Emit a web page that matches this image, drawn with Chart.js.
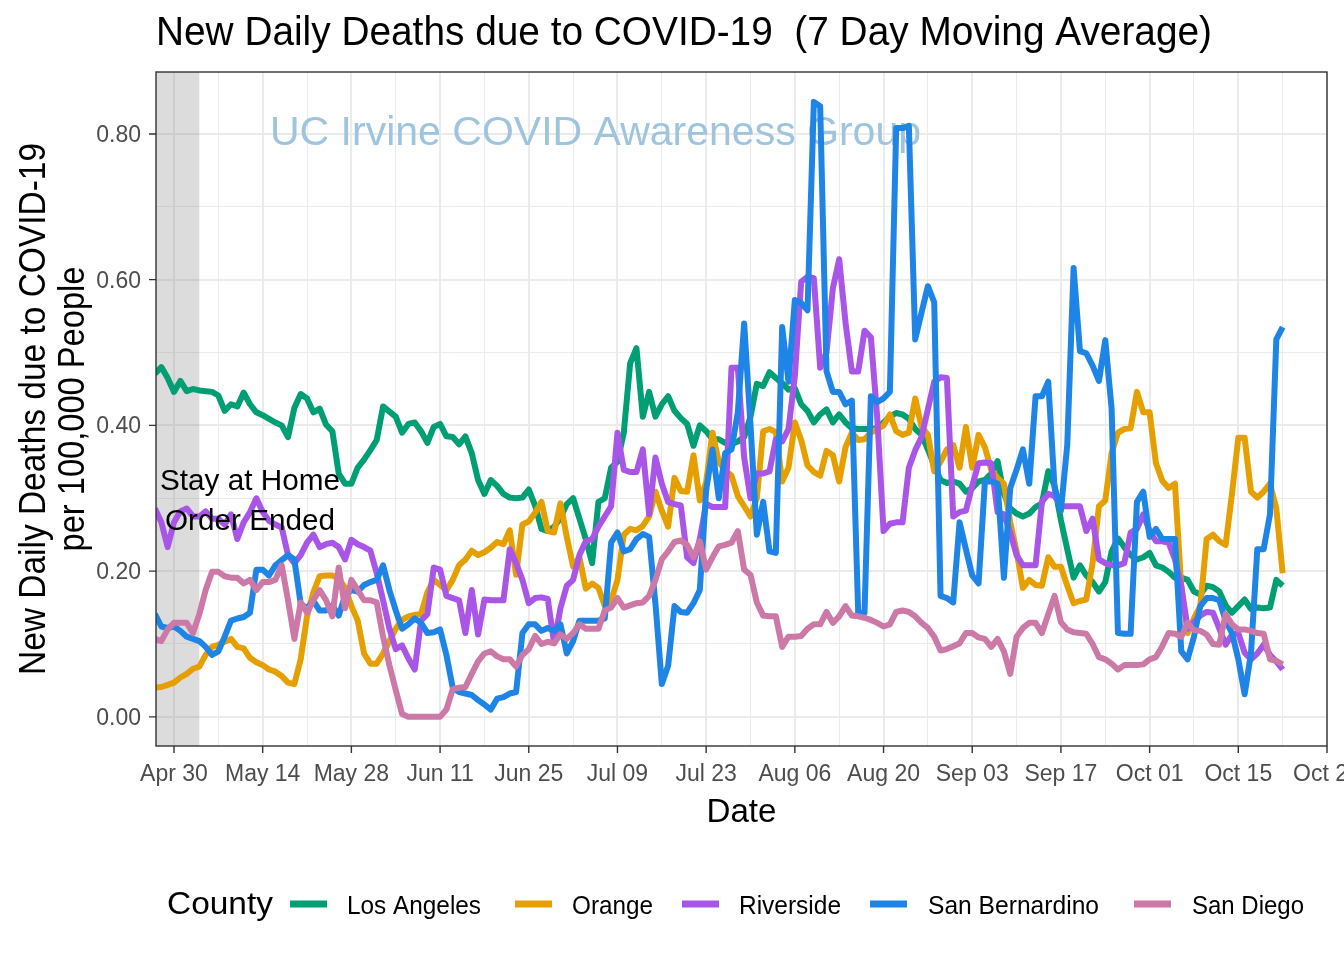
<!DOCTYPE html>
<html>
<head>
<meta charset="utf-8">
<script src="https://cdn.jsdelivr.net/npm/chart.js@4.4.1/dist/chart.umd.min.js"></script>
<style>
html,body{margin:0;padding:0;background:#ffffff;}
canvas{display:block;}
</style>
</head>
<body>
<canvas id="chart" width="1344" height="960"></canvas>
<script>
// ---- data (day index 0 = Apr 30, 2020; first value = Apr 27) ----
const FIRST_DAY = -3;
const counties = ['Los Angeles', 'Orange', 'Riverside', 'San Bernardino', 'San Diego'];
const countyColors = ['#009E73', '#E69F00', '#A855E8', '#1E85E6', '#CC79A7'];

const losAngeles = [
0.471,0.480,0.465,0.446,0.461,0.447,0.450,0.448,0.447,0.446,
0.441,0.420,0.429,0.426,0.445,0.429,0.418,0.414,0.409,0.404,
0.400,0.384,0.424,0.443,0.437,0.418,0.423,0.401,0.392,0.334,
0.320,0.320,0.342,0.353,0.366,0.380,0.426,0.419,0.412,0.390,
0.402,0.404,0.392,0.376,0.398,0.402,0.385,0.384,0.374,0.385,
0.362,0.325,0.306,0.325,0.317,0.306,0.301,0.300,0.301,0.312,
0.290,0.258,0.255,0.261,0.273,0.292,0.300,0.272,0.244,0.211,
0.295,0.300,0.342,0.350,0.390,0.485,0.506,0.412,0.446,0.412,
0.429,0.440,0.420,0.410,0.402,0.372,0.400,0.392,0.381,0.381,
0.376,0.374,0.378,0.384,0.412,0.457,0.454,0.473,0.465,0.458,
0.449,0.451,0.429,0.420,0.404,0.415,0.422,0.404,0.415,0.404,
0.396,0.395,0.395,0.395,0.396,0.404,0.412,0.417,0.415,0.409,
0.395,0.387,0.367,0.345,0.325,0.321,0.323,0.320,0.309,0.314,
0.323,0.325,0.334,0.351,0.306,0.286,0.279,0.275,0.279,0.288,
0.293,0.337,0.317,0.270,0.230,0.191,0.208,0.194,0.185,0.172,
0.185,0.227,0.245,0.233,0.222,0.216,0.219,0.225,0.208,0.205,
0.199,0.191,0.191,0.188,0.172,0.168,0.180,0.178,0.172,0.153,
0.143,0.152,0.161,0.148,0.150,0.149,0.150,0.188,0.180];

const orange = [
0.040,0.041,0.044,0.047,0.054,0.059,0.066,0.069,0.085,0.096,
0.099,0.103,0.107,0.096,0.094,0.081,0.075,0.071,0.065,0.062,
0.056,0.047,0.045,0.079,0.138,0.171,0.193,0.194,0.194,0.190,
0.177,0.152,0.132,0.087,0.073,0.073,0.087,0.104,0.121,0.133,
0.138,0.140,0.141,0.171,0.188,0.181,0.174,0.188,0.208,0.216,
0.228,0.222,0.226,0.232,0.240,0.237,0.256,0.195,0.264,0.268,
0.280,0.295,0.255,0.253,0.293,0.247,0.206,0.219,0.176,0.183,
0.177,0.152,0.160,0.188,0.250,0.258,0.256,0.262,0.275,0.309,
0.283,0.261,0.328,0.310,0.309,0.359,0.297,0.322,0.390,0.350,
0.338,0.331,0.303,0.289,0.275,0.300,0.392,0.395,0.391,0.323,
0.342,0.404,0.380,0.345,0.336,0.331,0.365,0.359,0.323,0.370,
0.390,0.380,0.381,0.390,0.395,0.400,0.415,0.392,0.387,0.390,
0.437,0.398,0.387,0.337,0.350,0.367,0.373,0.342,0.398,0.342,
0.387,0.370,0.339,0.328,0.320,0.267,0.227,0.177,0.188,0.181,
0.180,0.219,0.206,0.206,0.180,0.156,0.159,0.161,0.211,0.289,
0.297,0.362,0.390,0.395,0.396,0.446,0.418,0.418,0.348,0.324,
0.314,0.320,0.177,0.115,0.135,0.152,0.244,0.250,0.241,0.236,
0.306,0.383,0.383,0.309,0.301,0.309,0.320,0.286,0.197];

const riverside = [
0.286,0.267,0.233,0.267,0.282,0.286,0.275,0.275,0.282,0.272,
0.272,0.264,0.278,0.244,0.267,0.281,0.300,0.281,0.269,0.264,
0.260,0.222,0.211,0.222,0.239,0.250,0.233,0.237,0.239,0.233,
0.216,0.243,0.237,0.233,0.228,0.197,0.160,0.121,0.093,0.098,
0.080,0.065,0.132,0.141,0.205,0.202,0.166,0.163,0.160,0.115,
0.174,0.113,0.161,0.160,0.160,0.160,0.230,0.211,0.188,0.156,
0.163,0.164,0.162,0.101,0.149,0.180,0.188,0.222,0.241,0.244,
0.261,0.275,0.289,0.390,0.339,0.336,0.336,0.367,0.278,0.356,
0.320,0.295,0.292,0.290,0.219,0.211,0.244,0.292,0.288,0.288,
0.288,0.479,0.479,0.356,0.300,0.334,0.334,0.337,0.381,0.378,
0.395,0.468,0.597,0.604,0.602,0.479,0.500,0.588,0.628,0.541,
0.474,0.474,0.530,0.521,0.412,0.255,0.265,0.267,0.267,0.342,
0.366,0.384,0.422,0.460,0.466,0.465,0.275,0.281,0.283,0.317,
0.348,0.349,0.348,0.281,0.278,0.253,0.222,0.208,0.208,0.208,
0.295,0.306,0.303,0.289,0.289,0.289,0.289,0.255,0.272,0.216,
0.211,0.208,0.208,0.211,0.253,0.258,0.278,0.255,0.241,0.241,
0.239,0.216,0.180,0.121,0.130,0.139,0.144,0.143,0.121,0.099,
0.113,0.115,0.088,0.079,0.087,0.099,0.085,0.076,0.065];

const sanBernardino = [
0.141,0.124,0.122,0.124,0.118,0.110,0.107,0.104,0.096,0.085,
0.090,0.110,0.132,0.135,0.137,0.143,0.202,0.202,0.194,0.208,
0.215,0.222,0.216,0.155,0.149,0.159,0.146,0.146,0.153,0.139,
0.166,0.174,0.172,0.181,0.185,0.188,0.208,0.174,0.146,0.121,
0.127,0.135,0.129,0.115,0.116,0.120,0.085,0.040,0.034,0.032,
0.030,0.023,0.017,0.010,0.025,0.027,0.032,0.034,0.115,0.127,
0.127,0.118,0.122,0.118,0.127,0.087,0.104,0.132,0.132,0.132,
0.132,0.135,0.239,0.253,0.227,0.230,0.244,0.251,0.247,0.155,
0.045,0.070,0.152,0.144,0.143,0.156,0.174,0.311,0.367,0.300,
0.362,0.367,0.418,0.540,0.401,0.250,0.295,0.227,0.225,0.535,
0.460,0.572,0.568,0.558,0.844,0.838,0.474,0.446,0.446,0.429,
0.434,0.143,0.143,0.440,0.432,0.437,0.446,0.808,0.808,0.811,
0.518,0.555,0.591,0.569,0.166,0.163,0.157,0.267,0.230,0.194,
0.183,0.323,0.323,0.320,0.191,0.314,0.339,0.367,0.320,0.440,
0.440,0.460,0.314,0.283,0.373,0.616,0.502,0.499,0.482,0.461,
0.517,0.423,0.115,0.114,0.114,0.295,0.309,0.247,0.258,0.244,
0.244,0.244,0.090,0.079,0.110,0.152,0.163,0.163,0.160,0.132,
0.115,0.079,0.031,0.087,0.230,0.230,0.278,0.518,0.535];

const sanDiego = [
0.107,0.104,0.120,0.129,0.129,0.129,0.115,0.141,0.174,0.199,
0.199,0.193,0.191,0.191,0.183,0.188,0.174,0.185,0.185,0.188,
0.208,0.160,0.107,0.157,0.143,0.160,0.174,0.160,0.138,0.205,
0.149,0.188,0.174,0.160,0.160,0.157,0.110,0.071,0.037,0.004,
0.000,0.000,0.000,0.000,0.000,0.000,0.010,0.038,0.040,0.041,
0.059,0.076,0.087,0.090,0.083,0.079,0.079,0.069,0.085,0.093,
0.111,0.100,0.103,0.101,0.113,0.107,0.115,0.127,0.121,0.121,
0.121,0.146,0.150,0.163,0.150,0.153,0.156,0.157,0.166,0.188,
0.216,0.227,0.240,0.242,0.236,0.219,0.241,0.202,0.219,0.234,
0.236,0.239,0.255,0.202,0.195,0.157,0.139,0.138,0.138,0.096,
0.110,0.110,0.111,0.121,0.127,0.127,0.144,0.129,0.138,0.152,
0.139,0.138,0.136,0.133,0.129,0.124,0.127,0.144,0.146,0.144,
0.138,0.129,0.122,0.110,0.091,0.093,0.097,0.101,0.115,0.115,
0.109,0.107,0.096,0.107,0.090,0.059,0.110,0.122,0.129,0.129,
0.115,0.141,0.166,0.130,0.120,0.116,0.115,0.114,0.100,0.082,
0.079,0.073,0.065,0.071,0.071,0.071,0.072,0.079,0.082,0.097,
0.115,0.114,0.110,0.129,0.119,0.118,0.113,0.100,0.099,0.141,
0.127,0.120,0.120,0.118,0.115,0.114,0.079,0.077,0.072];

const seriesValues = [losAngeles, orange, riverside, sanBernardino, sanDiego];
const dayIndex = losAngeles.map((_, i) => FIRST_DAY + i);

const xTickDays = [0,14,28,42,56,70,84,98,112,126,140,154,168,182];
const xTickLabels = ['Apr 30','May 14','May 28','Jun 11','Jun 25','Jul 09','Jul 23','Aug 06','Aug 20','Sep 03','Sep 17','Oct 01','Oct 15','Oct 29'];
const yTickValues = [0, 0.2, 0.4, 0.6, 0.8];
const yTickLabels = ['0.00','0.20','0.40','0.60','0.80'];

const X_MIN = -2.84, X_MAX = 182, Y_MIN = -0.04, Y_MAX = 0.885;
const SHADE_END_DAY = 4;          // Stay-at-home band: Apr 27 - May 4
const NOTE_DAY = 12, NOTE_VALUE = 0.30;

const TITLE = 'New Daily Deaths due to COVID-19  (7 Day Moving Average)';
const WATERMARK = 'UC Irvine COVID Awareness Group';
const NOTE_LINES = ['Stay at Home', 'Order Ended'];
const Y_TITLE = ['New Daily Deaths due to COVID-19', 'per 100,000 People'];
const X_TITLE = 'Date';
const LEGEND_TITLE = 'County';

// ---- drawing helpers ----
const FONT = '"Liberation Sans", Arial, Helvetica, sans-serif';
function drawText(ctx, s, x, y, size, o = {}) {
  ctx.save();
  ctx.font = size + 'px ' + FONT;
  ctx.fillStyle = o.color || '#000000';
  ctx.textBaseline = o.baseline || 'alphabetic';
  ctx.textAlign = o.align || 'left';
  ctx.translate(x, y);
  if (o.rotate) ctx.rotate(o.rotate);
  if (o.width) {
    const w = ctx.measureText(s).width;
    ctx.scale(o.width / w, 1);
  }
  ctx.fillText(s, 0, 0);
  ctx.restore();
}

const decor = {
  id: 'decor',
  beforeDatasetsDraw(chart) {
    const { ctx, chartArea: a, scales: { x } } = chart;
    ctx.save();
    ctx.fillStyle = 'rgba(128,128,128,0.28)';
    const x1 = x.getPixelForValue(SHADE_END_DAY);
    ctx.fillRect(a.left, a.top, x1 - a.left, a.bottom - a.top);
    ctx.restore();
    drawText(ctx, WATERMARK, 270, 145, 41, { width: 651, color: '#9fc4de' });
  },
  afterDatasetsDraw(chart) {
    const { ctx, chartArea: a, scales: { x, y } } = chart;
    // annotation
    const nx = x.getPixelForValue(NOTE_DAY), ny = y.getPixelForValue(NOTE_VALUE);
    drawText(ctx, NOTE_LINES[0], nx, ny - 8, 30, { align: 'center', width: 180 });
    drawText(ctx, NOTE_LINES[1], nx, ny + 32, 30, { align: 'center', width: 170 });
    // panel border
    ctx.save();
    ctx.strokeStyle = '#333333';
    ctx.lineWidth = 1.4;
    ctx.strokeRect(a.left, a.top, a.right - a.left, a.bottom - a.top);
    // ticks
    ctx.beginPath();
    yTickValues.forEach(v => {
      const py = y.getPixelForValue(v);
      ctx.moveTo(a.left - 7, py); ctx.lineTo(a.left, py);
    });
    xTickDays.forEach(d => {
      const px = x.getPixelForValue(d);
      ctx.moveTo(px, a.bottom); ctx.lineTo(px, a.bottom + 7);
    });
    ctx.stroke();
    ctx.restore();
    yTickValues.forEach((v, i) => {
      drawText(ctx, yTickLabels[i], a.left - 15, y.getPixelForValue(v) + 8, 23, { align: 'right', color: '#4d4d4d' });
    });
    xTickDays.forEach((d, i) => {
      drawText(ctx, xTickLabels[i], x.getPixelForValue(d), 781, 23, { align: 'center', color: '#4d4d4d' });
    });
    // axis titles
    const cx = (a.left + a.right) / 2, cy = (a.top + a.bottom) / 2;
    drawText(ctx, X_TITLE, cx, 822, 34, { align: 'center', width: 70 });
    drawText(ctx, Y_TITLE[0], 45, cy, 36, { align: 'center', rotate: -Math.PI / 2, width: 532 });
    drawText(ctx, Y_TITLE[1], 84, cy, 36, { align: 'center', rotate: -Math.PI / 2, width: 285 });
    // title
    drawText(ctx, TITLE, 156, 45, 41, { width: 1056 });
    // legend
    drawText(ctx, LEGEND_TITLE, 167, 914, 31, { width: 106 });
    const swX = [290, 515, 682, 870, 1134];
    const txX = [347, 572, 739, 928, 1192];
    const txW = [134, 81, 102, 171, 112];
    ctx.save();
    ctx.lineWidth = 7;
    ctx.lineCap = 'butt';
    counties.forEach((name, i) => {
      ctx.strokeStyle = countyColors[i];
      ctx.beginPath(); ctx.moveTo(swX[i], 904); ctx.lineTo(swX[i] + 37, 904); ctx.stroke();
    });
    ctx.restore();
    counties.forEach((name, i) => drawText(ctx, name, txX[i], 914, 26, { width: txW[i] }));
  }
};

const datasets = counties.map((name, i) => ({
  label: name,
  data: seriesValues[i].map((v, j) => ({ x: dayIndex[j], y: v })),
  borderColor: countyColors[i],
  backgroundColor: countyColors[i],
  borderWidth: 6,
  pointRadius: 0,
  tension: 0,
  borderJoinStyle: 'round',
  borderCapStyle: 'butt',
  fill: false,
  clip: 0,
  order: counties.length - i
}));

const isMult = (v, step) => Math.abs(v / step - Math.round(v / step)) < 1e-6;

new Chart(document.getElementById('chart'), {
  type: 'line',
  data: { datasets },
  options: {
    responsive: false,
    animation: false,
    devicePixelRatio: 1,
    layout: { padding: { left: 156, right: 17, top: 72, bottom: 214 } },
    plugins: { legend: { display: false }, tooltip: { enabled: false }, title: { display: false } },
    scales: {
      x: {
        type: 'linear', min: X_MIN, max: X_MAX,
        afterBuildTicks: s => { const t = []; for (let d = 0; d <= 182; d += 7) t.push({ value: d }); s.ticks = t; },
        afterFit: s => { s.height = 0; },
        ticks: { display: false },
        border: { display: false },
        grid: {
          drawTicks: false,
          color: '#ebebeb',
          lineWidth: c => (c.tick && isMult(c.tick.value, 14)) ? 2 : 1
        }
      },
      y: {
        type: 'linear', min: Y_MIN, max: Y_MAX,
        afterBuildTicks: s => { const t = []; for (let k = 0; k <= 8; k++) t.push({ value: k / 10 }); s.ticks = t; },
        afterFit: s => { s.width = 0; },
        ticks: { display: false },
        border: { display: false },
        grid: {
          drawTicks: false,
          color: '#ebebeb',
          lineWidth: c => (c.tick && isMult(c.tick.value, 0.2)) ? 2 : 1
        }
      }
    }
  },
  plugins: [decor]
});
</script>
</body>
</html>
